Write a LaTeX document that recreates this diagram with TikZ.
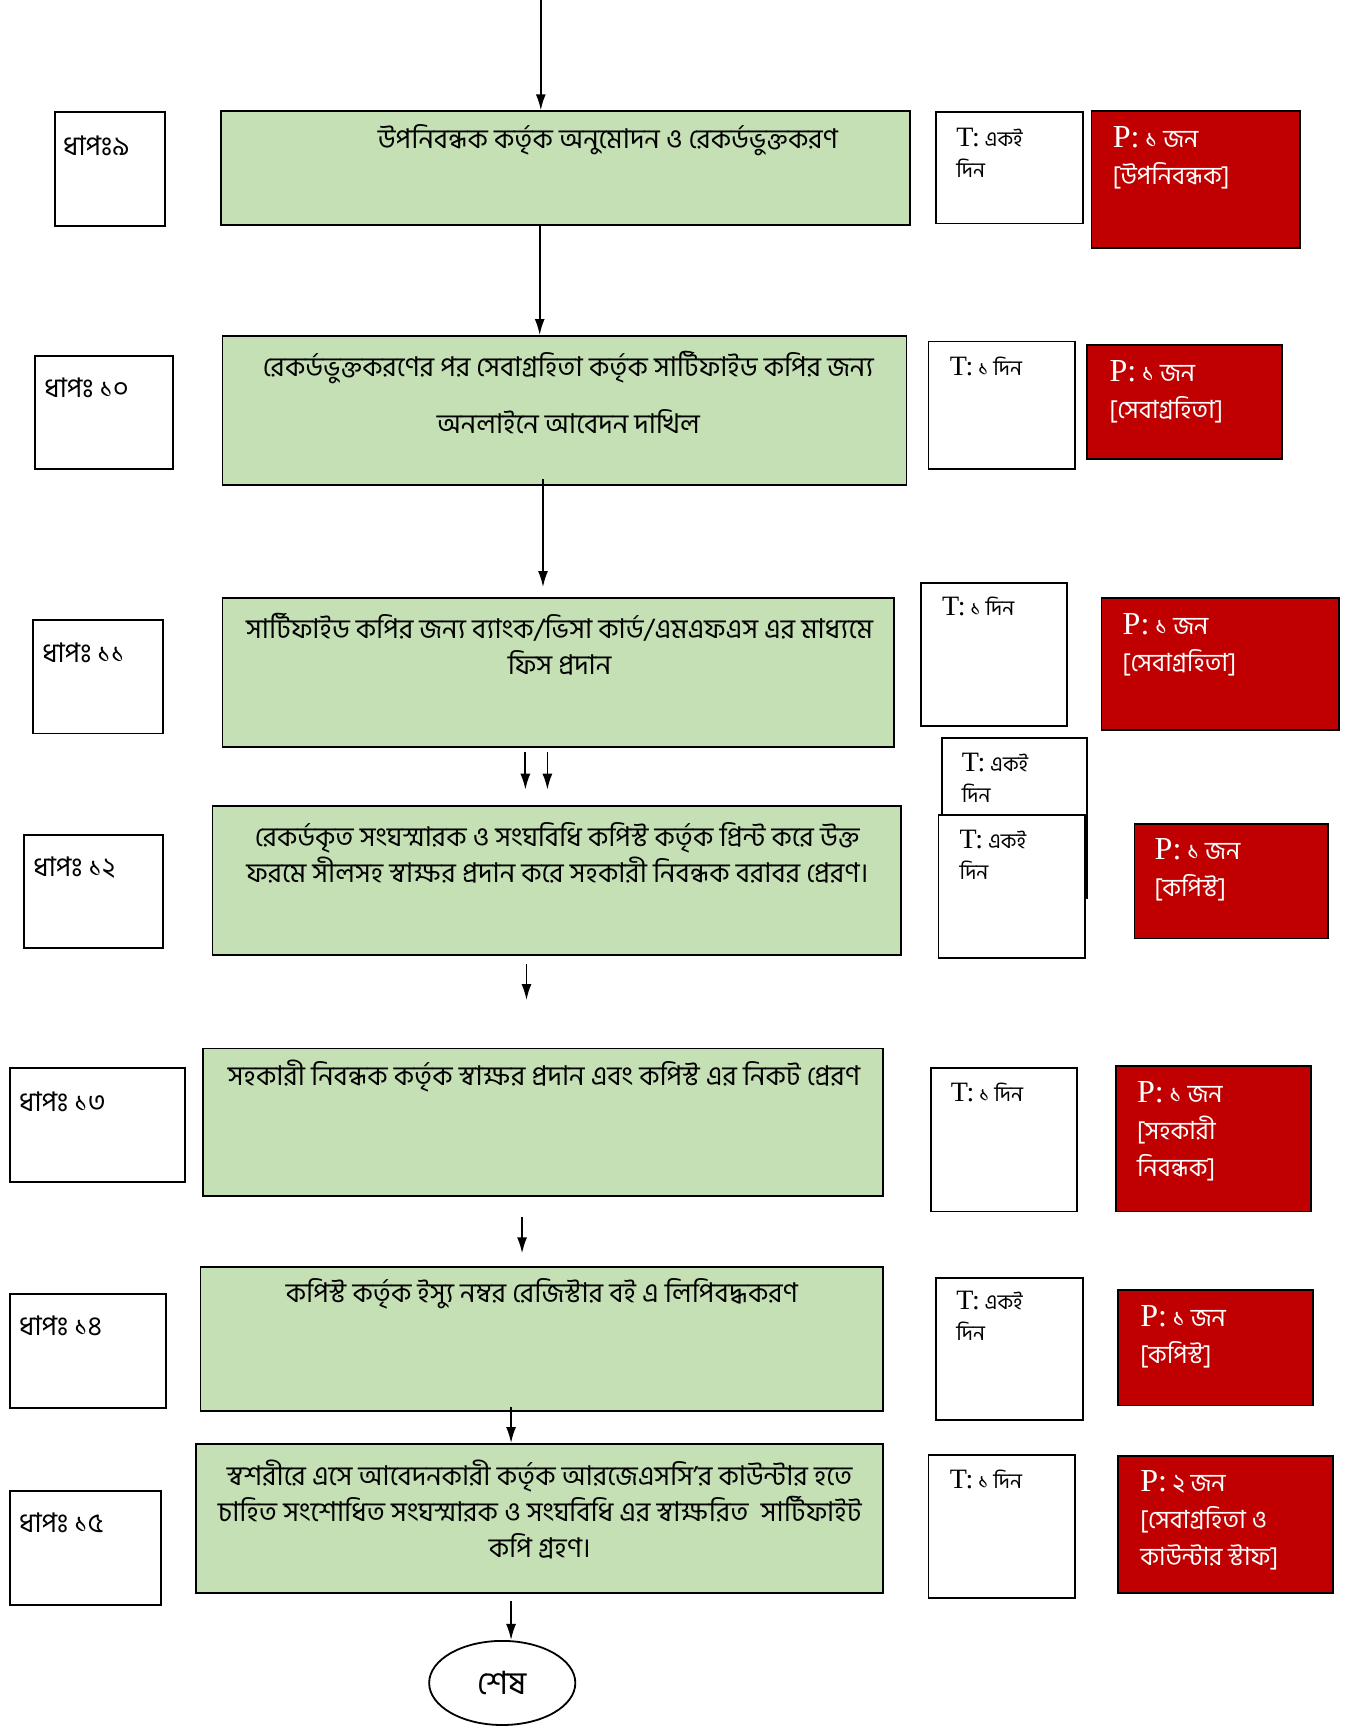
\documentclass[tikz,border=0pt]{standalone}
\usepackage{fontspec}
\setmainfont{Liberation Serif}
\newfontfamily\bn[Script=Bengali]{Hind Siliguri}
\usetikzlibrary{arrows,arrows.meta,fit,shapes.geometric}
\definecolor{kajgreen}{RGB}{197,224,180}
\definecolor{lalred}{RGB}{192,0,0}
\newcommand\tp[1]{{\rmfamily\fontsize{14}{15}\selectfont #1}}
\newcommand\pp[1]{{\rmfamily\fontsize{16}{17}\selectfont #1}}

\begin{document}
\begin{tikzpicture}[x=0.55pt,y=-0.55pt,
  box/.style={draw,line width=0.9pt,inner sep=0pt},
  dhap/.style={box,fill=white},
  kaj/.style={box,fill=kajgreen},
  tbox/.style={box,fill=white},
  pbox/.style={box,fill=lalred},
  dlbl/.style={anchor=west,inner sep=0pt,font=\bn\fontsize{13.5}{16}\selectfont},
  klbl/.style={anchor=center,inner sep=0pt,align=center,font=\bn\fontsize{13.6}{18.2}\selectfont},
  tlbl/.style={anchor=west,inner sep=0pt,align=left,font=\bn\fontsize{10.5}{15.4}\selectfont},
  plbl/.style={anchor=west,inner sep=0pt,align=left,text=white,font=\bn\fontsize{12.5}{18.5}\selectfont},
  arr/.style={-{Latex[length=8pt,width=5pt]},line width=0.9pt}]

\useasboundingbox (0,0) rectangle (1234,1568);

% step 9
\node[dhap,fit={(50,102)(150,205)}] (s9) {};
\node[kaj,fit={(201,101)(826,204)}] (g9) {};
\node[tbox,fit={(850,102)(983,203)}] (t9) {};
\node[pbox,fit={(991,101)(1180,225)}] (p9) {};
\node[dlbl] (s9l) at (57,132) {ধাপঃ৯};
\node[klbl] (g9l) at (552,127) {উপনিবন্ধক কর্তৃক অনুমোদন ও রেকর্ডভুক্তকরণ};
\node[tlbl] (t9l) at (868,139) {\tp{T:} একই\\দিন};
\node[plbl] (p9l) at (1010,143.5) {\pp{P:} ১ জন\\{}[উপনিবন্ধক]};

% step 10
\node[dhap,fit={(32,323)(157,426)}] (s10) {};
\node[kaj,fit={(202,305)(823,440)}] (g10) {};
\node[tbox,fit={(843,310)(976,426)}] (t10) {};
\node[pbox,fit={(987,313)(1164,417)}] (p10) {};
\node[dlbl] (s10l) at (40,352) {ধাপঃ ১০};
\node[klbl] (g10l) at (516,356.5) {রেকর্ডভুক্তকরণের পর সেবাগ্রহিতা কর্তৃক সার্টিফাইড কপির জন্য\\[10pt]অনলাইনে আবেদন দাখিল};
\node[tlbl] (t10l) at (862,333) {\tp{T:} ১ দিন};
\node[plbl] (p10l) at (1007,355.5) {\pp{P:} ১ জন\\{}[সেবাগ্রহিতা]};

% step 11
\node[dhap,fit={(30,563)(148,666)}] (s11) {};
\node[kaj,fit={(202,543)(812,678)}] (g11) {};
\node[tbox,fit={(836,529)(969,659)}] (t11) {};
\node[pbox,fit={(1000,543)(1216,663)}] (p11) {};
\node[dlbl] (s11l) at (38,593) {ধাপঃ ১১};
\node[klbl] (g11l) at (508,585) {সার্টিফাইড কপির জন্য ব্যাংক/ভিসা কার্ড/এমএফএস এর মাধ্যমে\\ফিস প্রদান};
\node[tlbl] (t11l) at (855,551) {\tp{T:} ১ দিন};
\node[plbl] (p11l) at (1019,585) {\pp{P:} ১ জন\\{}[সেবাগ্রহিতা]};

% step 12
\node[dhap,fit={(22,758)(148,861)}] (s12) {};
\node[kaj,fit={(193,732)(818,867)}] (g12) {};
\node[tbox,fit={(855,670)(987,815)}] (t12a) {};
\node[tbox,fit={(852,740)(985,870)}] (t12b) {};
\node[pbox,fit={(1030,748)(1206,852)}] (p12) {};
\node[dlbl] (s12l) at (30,788) {ধাপঃ ১২};
\node[klbl] (g12l) at (506,774.5) {রেকর্ডকৃত সংঘস্মারক ও সংঘবিধি কপিস্ট কর্তৃক প্রিন্ট করে উক্ত\\ফরমে সীলসহ স্বাক্ষর প্রদান করে সহকারী নিবন্ধক বরাবর প্রেরণ।};
\node[tlbl] (t12al) at (873,706) {\tp{T:} একই\\দিন};
\node[tlbl] (t12bl) at (871,776) {\tp{T:} একই\\দিন};
\node[plbl] (p12l) at (1048,790) {\pp{P:} ১ জন\\{}[কপিস্ট]};

% step 13
\node[dhap,fit={(9,970)(168,1073)}] (s13) {};
\node[kaj,fit={(184,952)(802,1086)}] (g13) {};
\node[tbox,fit={(845,970)(978,1100)}] (t13) {};
\node[pbox,fit={(1013,968)(1190,1100)}] (p13) {};
\node[dlbl] (s13l) at (17,1000) {ধাপঃ ১৩};
\node[klbl] (g13l) at (494,977) {সহকারী নিবন্ধক কর্তৃক স্বাক্ষর প্রদান এবং কপিস্ট এর নিকট প্রেরণ};
\node[tlbl] (t13l) at (863,992) {\tp{T:} ১ দিন};
\node[plbl] (p13l) at (1032,1027) {\pp{P:} ১ জন\\{}[সহকারী\\নিবন্ধক]};

% step 14
\node[dhap,fit={(9,1175)(151,1278)}] (s14) {};
\node[kaj,fit={(182,1150)(802,1281)}] (g14) {};
\node[tbox,fit={(850,1160)(983,1289)}] (t14) {};
\node[pbox,fit={(1015,1171)(1192,1276)}] (p14) {};
\node[dlbl] (s14l) at (17,1204) {ধাপঃ ১৪};
\node[klbl] (g14l) at (492,1175) {কপিস্ট কর্তৃক ইস্যু নম্বর রেজিস্টার বই এ লিপিবদ্ধকরণ};
\node[tlbl] (t14l) at (868,1195) {\tp{T:} একই\\দিন};
\node[plbl] (p14l) at (1035,1213.5) {\pp{P:} ১ জন\\{}[কপিস্ট]};

% step 15
\node[dhap,fit={(9,1354)(146,1457)}] (s15) {};
\node[kaj,fit={(178,1311)(802,1446)}] (g15) {};
\node[tbox,fit={(843,1321)(976,1451)}] (t15) {};
\node[pbox,fit={(1015,1322)(1210,1446)}] (p15) {};
\node[dlbl] (s15l) at (17,1383) {ধাপঃ ১৫};
\node[klbl] (g15l) at (490,1370.5) {স্বশরীরে এসে আবেদনকারী কর্তৃক আরজেএসসি’র কাউন্টার হতে\\চাহিত সংশোধিত সংঘস্মারক ও সংঘবিধি এর স্বাক্ষরিত \ সার্টিফাইট\\কপি গ্রহণ।};
\node[tlbl] (t15l) at (862,1343) {\tp{T:} ১ দিন};
\node[plbl] (p15l) at (1035,1380.5) {\pp{P:} ২ জন\\{}[সেবাগ্রহিতা ও\\কাউন্টার স্টাফ]};

% end
\node[draw,ellipse,line width=0.9pt,minimum width=73pt,minimum height=42pt,inner sep=0pt,
  font=\bn\fontsize{16}{18}\selectfont] (shesh) at (456,1528) {শেষ};

% arrows
\coordinate (a0) at (491,0);
\coordinate (a1) at (490,0);
\coordinate (a2) at (493,435);
\coordinate (b2) at (493,533);
\coordinate (a3) at (477,683);
\coordinate (b3) at (477,717);
\coordinate (a4) at (497,683);
\coordinate (b4) at (497,717);
\coordinate (a5) at (478,875);
\coordinate (b5) at (478,908);
\coordinate (a6) at (474,1105);
\coordinate (b6) at (474,1138);
\coordinate (a7) at (464,1277);
\coordinate (a8) at (464,1454);

\draw[arr] (a0) -- (a0 |- g9.north);
\draw[arr] (a1 |- g9.south) -- (a1 |- g10.north);
\draw[arr] (a2) -- (b2);
\draw[arr] (a3) -- (b3);
\draw[arr] (a4) -- (b4);
\draw[arr] (a5) -- (b5);
\draw[arr] (a6) -- (b6);
\draw[arr] (a7) -- (a7 |- g15.north);
\draw[arr] (a8) -- (a8 |- shesh.north);

\end{tikzpicture}
\end{document}
